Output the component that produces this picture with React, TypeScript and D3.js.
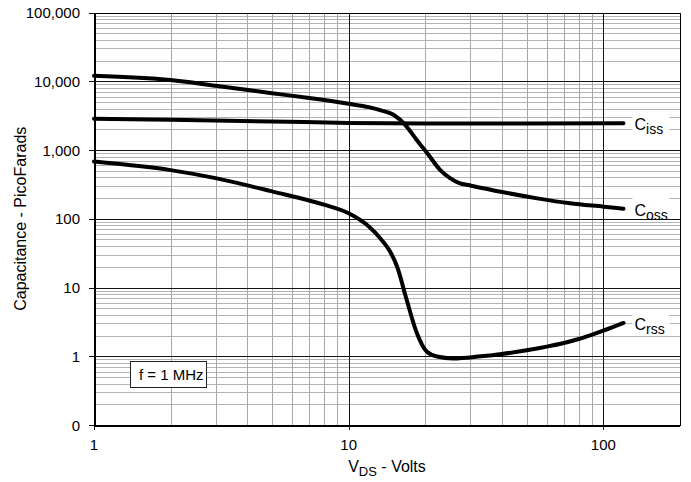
import React, { useEffect, useRef } from 'react';
import * as d3 from 'd3';

// VDS (volts) and capacitance (pF)
const cissVolts = [1, 2, 5, 10, 20, 50, 120];
const cissPf = [2850, 2750, 2600, 2480, 2430, 2430, 2450];

const cossVolts = [1, 2, 3, 5, 7, 10, 12, 13.3, 15, 16.7, 18.5, 20.6, 22.9, 25, 27.2, 30, 40, 55, 74, 100, 120];
const cossPf = [12000, 10400, 8600, 6700, 5700, 4700, 4200, 3800, 3250, 2300, 1400, 845, 510, 390, 330, 305, 245, 198, 168, 150, 140];

const crssVolts = [1, 2, 3, 5, 8, 10, 12, 13.3, 14.5, 15.5, 16.9, 18.5, 20.3, 22.2, 25.7, 33, 40, 50, 60, 70, 80, 90, 100, 120];
const crssPf = [680, 510, 390, 250, 160, 120, 77, 52, 34, 20, 6.6, 2.2, 1.16, 0.99, 0.93, 1.0, 1.08, 1.22, 1.38, 1.56, 1.78, 2.05, 2.35, 3.05];

const yTickValues = [100000, 10000, 1000, 100, 10, 1, 0.1];
const yTickLabels = ['100,000', '10,000', '1,000', '100', '10', '1', '0'];
const xTickValues = [1, 10, 100];
const xTickLabels = ['1', '10', '100'];

const seriesNames = ['iss', 'oss', 'rss'];

const App = () => {
  const ref = useRef<SVGSVGElement>(null);

  useEffect(() => {
    const width = 691;
    const height = 482;
    const margin = { top: 12.5, right: 11, bottom: 57, left: 94 };
    const font = 'Liberation Sans, Arial, sans-serif';

    const x = d3.scaleLog().domain([1, 200]).range([margin.left, width - margin.right]);
    const y = d3.scaleLog().domain([0.1, 100000]).range([height - margin.bottom, margin.top]);

    const svg = d3.select(ref.current);
    svg.selectAll('*').remove();

    const [x0, x1] = x.range();
    const [y0, y1] = y.range();

    // minor grid
    const xMinor: number[] = [];
    [1, 10, 100].forEach((d) => {
      for (let m = 2; m <= 9; m++) if (d * m < 200) xMinor.push(d * m);
    });
    const yMinor: number[] = [];
    [0.1, 1, 10, 100, 1000, 10000].forEach((d) => {
      for (let m = 2; m <= 9; m++) yMinor.push(d * m);
    });

    const grid = svg.append('g').attr('shape-rendering', 'crispEdges');
    grid
      .selectAll('line.ym')
      .data(yMinor)
      .enter()
      .append('line')
      .attr('x1', x0)
      .attr('x2', x1)
      .attr('y1', (d) => Math.round(y(d)) + 0.5)
      .attr('y2', (d) => Math.round(y(d)) + 0.5)
      .attr('stroke', '#b4b4b4');
    grid
      .selectAll('line.xm')
      .data(xMinor)
      .enter()
      .append('line')
      .attr('x1', (d) => Math.round(x(d)) + 0.5)
      .attr('x2', (d) => Math.round(x(d)) + 0.5)
      .attr('y1', y0)
      .attr('y2', y1)
      .attr('stroke', '#a8a8a8');
    grid
      .selectAll('line.yM')
      .data(yTickValues)
      .enter()
      .append('line')
      .attr('x1', x0 - 5)
      .attr('x2', x1)
      .attr('y1', (d) => Math.round(y(d)) + 0.5)
      .attr('y2', (d) => Math.round(y(d)) + 0.5)
      .attr('stroke', '#111');
    grid
      .selectAll('line.xM')
      .data(xTickValues)
      .enter()
      .append('line')
      .attr('x1', (d) => Math.round(x(d)) + 0.5)
      .attr('x2', (d) => Math.round(x(d)) + 0.5)
      .attr('y1', y0 + 5)
      .attr('y2', y1)
      .attr('stroke', '#111');

    // frame
    grid
      .append('rect')
      .attr('x', Math.round(x0) + 0.5)
      .attr('y', Math.round(y1) + 0.5)
      .attr('width', Math.round(x1) - Math.round(x0))
      .attr('height', Math.round(y0) - Math.round(y1))
      .attr('fill', 'none')
      .attr('stroke', '#000');
    grid
      .append('line')
      .attr('x1', Math.round(x0) + 0.5)
      .attr('x2', Math.round(x0) + 0.5)
      .attr('y1', y1)
      .attr('y2', y0)
      .attr('stroke', '#000')
      .attr('stroke-width', 2);
    grid
      .append('line')
      .attr('x1', x0)
      .attr('x2', x1)
      .attr('y1', Math.round(y0) + 0.5)
      .attr('y2', Math.round(y0) + 0.5)
      .attr('stroke', '#000')
      .attr('stroke-width', 2);

    // tick labels
    svg
      .append('g')
      .attr('font-family', font)
      .attr('font-size', 15)
      .attr('text-anchor', 'end')
      .selectAll('text')
      .data(yTickValues)
      .enter()
      .append('text')
      .attr('x', x0 - 14)
      .attr('y', (d) => y(d) + 5.5)
      .text((_, i) => yTickLabels[i]);
    svg
      .append('g')
      .attr('font-family', font)
      .attr('font-size', 15)
      .attr('text-anchor', 'middle')
      .selectAll('text')
      .data(xTickValues)
      .enter()
      .append('text')
      .attr('x', (d) => x(d))
      .attr('y', 450)
      .text((_, i) => xTickLabels[i]);

    // axis titles
    svg
      .append('text')
      .attr('font-family', font)
      .attr('font-size', 16)
      .attr('text-anchor', 'middle')
      .attr('transform', `translate(26,${(y0 + y1) / 2}) rotate(-90)`)
      .text('Capacitance - PicoFarads');
    const xt = svg
      .append('text')
      .attr('font-family', font)
      .attr('font-size', 16)
      .attr('text-anchor', 'middle')
      .attr('x', (x0 + x1) / 2)
      .attr('y', 472);
    xt.append('tspan').text('V');
    xt.append('tspan').attr('font-size', 13).attr('dy', 4).text('DS');
    xt.append('tspan').attr('dy', -4).text(' - Volts');

    // curves
    const line = d3
      .line<[number, number]>()
      .x((d) => x(d[0]))
      .y((d) => y(d[1]))
      .curve(d3.curveMonotoneX);
    const series: [number, number][][] = [
      cissVolts.map((v, i) => [v, cissPf[i]]),
      cossVolts.map((v, i) => [v, cossPf[i]]),
      crssVolts.map((v, i) => [v, crssPf[i]]),
    ];
    svg
      .append('g')
      .selectAll('path')
      .data(series)
      .enter()
      .append('path')
      .attr('d', (d) => line(d))
      .attr('fill', 'none')
      .attr('stroke', '#000')
      .attr('stroke-width', 4)
      .attr('stroke-linecap', 'round')
      .attr('stroke-linejoin', 'round');

    // curve labels
    const labels = svg.append('g').attr('font-family', font);
    series.forEach((s, i) => {
      const last = s[s.length - 1];
      const ly = y(last[1]);
      const lx = x(last[0]) + 11;
      labels
        .append('rect')
        .attr('x', lx - 2)
        .attr('y', ly - 12)
        .attr('width', 37)
        .attr('height', 22)
        .attr('fill', '#fff');
      const t = labels
        .append('text')
        .attr('x', lx)
        .attr('y', ly + 7)
        .attr('font-size', 16);
      t.append('tspan').text('C');
      t.append('tspan').attr('font-size', 14).attr('dy', 4).text(seriesNames[i]);
    });

    // frequency note
    const note = svg.append('g').attr('font-family', font);
    note
      .append('rect')
      .attr('x', 130.5)
      .attr('y', 361.5)
      .attr('width', 76)
      .attr('height', 26)
      .attr('fill', '#fff')
      .attr('stroke', '#222');
    note
      .append('text')
      .attr('x', 139)
      .attr('y', 380)
      .attr('font-size', 15)
      .text('f = 1 MHz');
  }, []);

  return (
    <svg
      ref={ref}
      width={691}
      height={482}
      style={{ position: 'absolute', left: 0, top: 0, background: '#fff' }}
    />
  );
};

export default App;
